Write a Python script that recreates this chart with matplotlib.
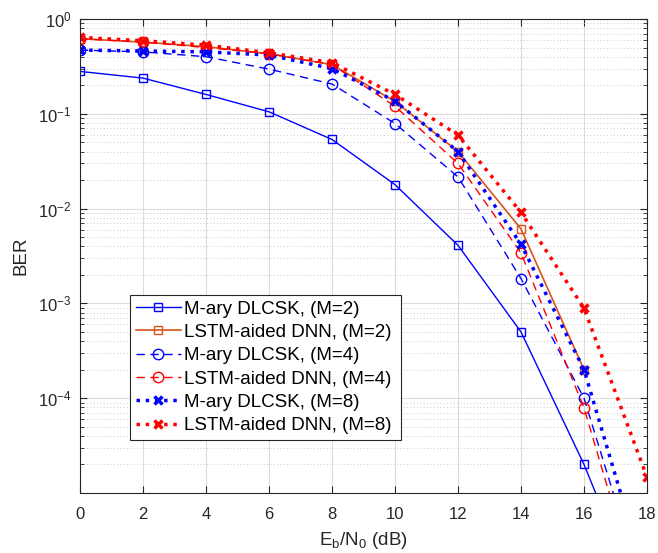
import numpy as np
import matplotlib.pyplot as plt
from matplotlib.ticker import LogLocator, NullFormatter

plt.rcParams['font.family'] = ['Liberation Sans', 'DejaVu Sans']

snr = [0, 2, 4, 6, 8, 10, 12, 14, 16, 18]
snr16 = [0, 2, 4, 6, 8, 10, 12, 14, 16]

# BER values
dlcsk_m2 = [0.28, 0.238, 0.160, 0.105, 0.0536, 0.0179, 0.0041, 5.0e-4, 2.0e-5, 4.7e-7]
lstm_m2 = [0.62, 0.57, 0.51, 0.43, 0.33, 0.135, 0.040, 6.1e-3, 2.0e-4]
dlcsk_m4 = [0.47, 0.45, 0.40, 0.296, 0.206, 0.079, 0.0216, 1.83e-3, 1.0e-4, 7.0e-7]
lstm_m4 = [0.62, 0.57, 0.50, 0.43, 0.33, 0.12, 0.030, 3.4e-3, 7.9e-5, 4.5e-7]
dlcsk_m8 = [0.47, 0.46, 0.45, 0.417, 0.30, 0.136, 0.040, 4.2e-3, 2.0e-4, 1.15e-6]
lstm_m8 = [0.64, 0.59, 0.53, 0.44, 0.346, 0.16, 0.0596, 9.1e-3, 8.9e-4, 1.47e-5]

labels = ['M-ary DLCSK, (M=2)', 'LSTM-aided DNN, (M=2)',
          'M-ary DLCSK, (M=4)', 'LSTM-aided DNN, (M=4)',
          'M-ary DLCSK, (M=8)', 'LSTM-aided DNN, (M=8)']

fig = plt.figure(figsize=(6.58, 5.53), dpi=100)
ax = fig.add_axes([80 / 658, 1 - 493 / 553, 567 / 658, 474 / 553])

ax.semilogy(snr, dlcsk_m2, '-s', color='b', lw=1, ms=5.5, mfc='none', mew=1, label=labels[0])
ax.semilogy(snr16, lstm_m2, '-s', color='#D95319', lw=1.2, ms=6, mfc='none', mew=1, label=labels[1])
ax.semilogy(snr, dlcsk_m4, '--o', color='b', lw=1, ms=7.5, mfc='none', mew=1, dashes=(6, 4), label=labels[2])
ax.semilogy(snr, lstm_m4, '--o', color='r', lw=1, ms=7.5, mfc='none', mew=1, dashes=(6, 4), label=labels[3])
ax.semilogy(snr, dlcsk_m8, ':x', color='b', lw=2.5, ms=6, mew=2.5, label=labels[4])
ax.semilogy(snr, lstm_m8, ':x', color='r', lw=2.5, ms=6, mew=2.5, label=labels[5])

ax.set_xlim(0, 18)
ax.set_ylim(1.0e-5, 1)
ax.set_xticks(np.arange(0, 19, 2))
ax.set_yticks([1e-4, 1e-3, 1e-2, 1e-1, 1e0])
ax.yaxis.set_minor_locator(LogLocator(base=10, subs=np.arange(2, 10), numticks=20))
ax.yaxis.set_minor_formatter(NullFormatter())

ax.grid(True, which='major', color='#dcdcdc', lw=0.8, ls='-')
ax.grid(True, which='minor', axis='y', color='#b8b8b8', lw=0.6, ls=(0, (1, 3)))
ax.set_axisbelow(True)

ax.tick_params(which='both', direction='in', top=True, right=True, labelsize=12,
               colors='#262626')
ax.tick_params(which='major', length=5, pad=6)
ax.tick_params(axis='x', which='major', pad=10)
ax.tick_params(which='minor', length=3)
for s in ax.spines.values():
    s.set_color('#262626')
    s.set_linewidth(0.8)

ax.set_xlabel('E$_\\mathregular{b}$/N$_\\mathregular{0}$ (dB)', fontsize=13.5, color='#262626', labelpad=6)
ax.set_ylabel('BER', fontsize=13.5, color='#262626', labelpad=6)

leg = ax.legend(loc='lower left', bbox_to_anchor=(0.088, 0.112, 0.478, 0.301), mode='expand',
                fontsize=13.5, fancybox=False, edgecolor='#262626', framealpha=1,
                borderpad=0.3, labelspacing=0.33, handlelength=2.4, handletextpad=0.2,
                borderaxespad=0)
leg.get_frame().set_linewidth(0.8)

fig.savefig('out.png', dpi=100)
